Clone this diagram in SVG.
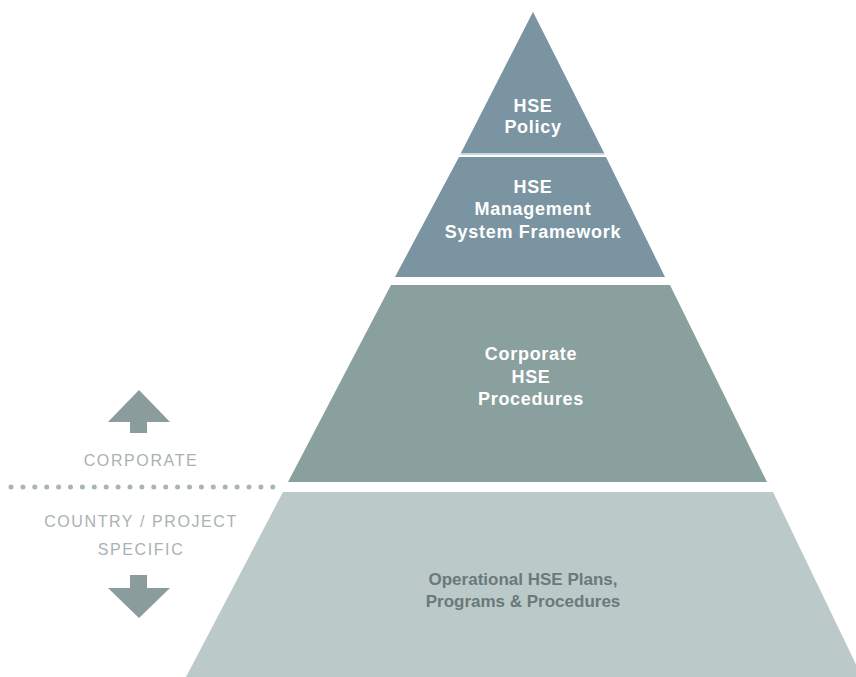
<svg xmlns="http://www.w3.org/2000/svg" width="856" height="677" viewBox="0 0 856 677">
<style>
.lbl{font-family:"Liberation Sans",Arial,sans-serif;font-weight:bold;font-size:18px;text-anchor:middle;fill:#ffffff;letter-spacing:0.7px}
.dark{fill:#687a7a;font-size:17px;letter-spacing:0}
.side{font-family:"Liberation Sans",Arial,sans-serif;font-size:16px;text-anchor:middle;fill:#a9b2b2;letter-spacing:1.6px}
.arrow{fill:#8a9c9b}
</style>
<rect width="856" height="677" fill="#ffffff"/>
<g id="tier-policy">
<polygon points="533,12 605,155 460,155" fill="#c9d6dc"/>
<polygon points="533,12 604,153 461,153" fill="#7b94a1"/>
<text class="lbl" x="533" y="112">HSE</text>
<text class="lbl" x="533" y="133">Policy</text>
</g>
<g id="tier-framework">
<polygon points="459,157 606,157 665,277 395,277" fill="#7b94a1"/>
<text class="lbl" x="533" y="193">HSE</text>
<text class="lbl" x="533" y="215">Management</text>
<text class="lbl" x="533" y="238">System Framework</text>
</g>
<g id="tier-corporate">
<polygon points="391,285 670,285 767,482 288,482" fill="#8aa09e"/>
<text class="lbl" x="531" y="360">Corporate</text>
<text class="lbl" x="531" y="383">HSE</text>
<text class="lbl" x="531" y="405">Procedures</text>
</g>
<g id="tier-operational">
<polygon points="283,492 773,492 862,677 186,677" fill="#bcc9c9"/>
<text class="lbl dark" x="523" y="585">Operational HSE Plans,</text>
<text class="lbl dark" x="523" y="607">Programs &amp; Procedures</text>
</g>
<g id="divider">
<line x1="11" y1="487" x2="273" y2="487" stroke="#a9b4b4" stroke-width="5" stroke-linecap="round" stroke-dasharray="0 11.9"/>
<text class="side" x="141" y="466">CORPORATE</text>
<text class="side" x="141" y="527">COUNTRY / PROJECT</text>
<text class="side" x="141" y="555">SPECIFIC</text>
</g>
<g id="connectors">
<polygon class="arrow" points="139,390 170,422 147,422 147,433 130,433 130,422 108,422"/>
<polygon class="arrow" points="130,575 147,575 147,588 170,588 139,618 108,588 130,588"/>
</g>
</svg>
